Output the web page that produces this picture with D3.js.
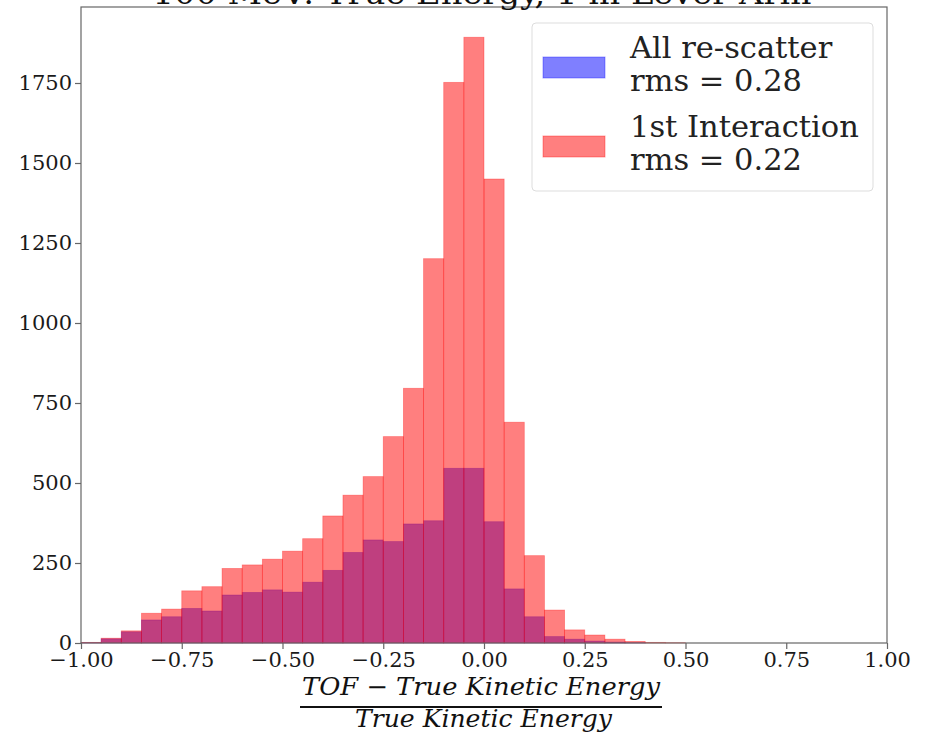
<!DOCTYPE html>
<html>
<head>
<meta charset="utf-8">
<script src="https://cdn.jsdelivr.net/npm/d3@7"></script>
<style>
  body { margin: 0; background: #fff; }
  svg { display: block; }
  text { font-family: "DejaVu Serif", serif; }
</style>
</head>
<body>
<div id="chart"></div>
<script>
// left edge of each histogram bin (width 0.05)
var binStarts = [-1.00, -0.95, -0.90, -0.85, -0.80, -0.75, -0.70, -0.65, -0.60, -0.55,
                 -0.50, -0.45, -0.40, -0.35, -0.30, -0.25, -0.20, -0.15, -0.10, -0.05,
                  0.00,  0.05,  0.10,  0.15,  0.20,  0.25,  0.30,  0.35,  0.40,  0.45];
var binWidth = 0.05;

var allRescatter = [1, 13, 35, 72, 82, 108, 100, 150, 158, 166,
                    159, 190, 227, 283, 322, 317, 372, 382, 546, 546,
                    379, 169, 82, 20, 12, 6, 3, 1, 0, 0];

var firstInteraction = [2, 15, 38, 93, 106, 163, 176, 233, 244, 262,
                        287, 326, 397, 462, 520, 645, 796, 1201, 1752, 1893,
                        1450, 690, 273, 103, 41, 25, 12, 5, 2, 1];

var seriesNames = ["All re-scatter", "1st Interaction"];
var rmsLabels = ["rms = 0.28", "rms = 0.22"];
var seriesColors = ["blue", "red"];

var xTicks = [-1.00, -0.75, -0.50, -0.25, 0.00, 0.25, 0.50, 0.75, 1.00];
var yTicks = [0, 250, 500, 750, 1000, 1250, 1500, 1750];

var chartTitle = "100 MeV: True Energy, 1 m Lever Arm";

var width = 929, height = 736;
// plot area (don't call it "top", that's window.top)
var plotLeft = 81, plotRight = 887, plotTop = 7, plotBottom = 643;

var svg = d3.select("#chart").append("svg")
  .attr("width", width)
  .attr("height", height);

var x = d3.scaleLinear().domain([-1, 1]).range([plotLeft, plotRight]);
var y = d3.scaleLinear().domain([0, 1987.5]).range([plotBottom, plotTop]);

var series = [allRescatter, firstInteraction];

// blue drawn first, red on top (both half transparent)
series.forEach(function(values, i) {
  svg.append("g").selectAll("rect")
    .data(values)
    .enter()
    .append("rect")
    .attr("x", function(d, j) { return x(binStarts[j]); })
    .attr("width", function(d, j) { return x(binStarts[j] + binWidth) - x(binStarts[j]); })
    .attr("y", function(d) { return y(d); })
    .attr("height", function(d) { return y(0) - y(d); })
    .style("fill", seriesColors[i])
    .style("fill-opacity", 0.5)
    .style("stroke", seriesColors[i])
    .style("stroke-opacity", 0.35)
    .style("stroke-width", 0.8);
});

// axes
var xAxis = svg.append("g")
  .attr("transform", "translate(0," + plotBottom + ")")
  .call(d3.axisBottom(x).tickValues(xTicks).tickSize(6).tickPadding(3)
    .tickFormat(function(d) { return d3.format(".2f")(d).replace("-", "\u2212"); }));

var yAxis = svg.append("g")
  .attr("transform", "translate(" + plotLeft + ",0)")
  .call(d3.axisLeft(y).tickValues(yTicks).tickSize(6).tickPadding(3)
    .tickFormat(d3.format("d")));

[xAxis, yAxis].forEach(function(ax) {
  ax.select(".domain").remove();
  ax.selectAll("line").style("stroke", "#666").style("stroke-width", 1.2);
  ax.selectAll("text")
    .style("font-family", "DejaVu Serif, serif")
    .style("font-size", "21px")
    .style("fill", "#1a1a1a");
});

// frame
svg.append("rect")
  .attr("x", plotLeft).attr("y", plotTop)
  .attr("width", plotRight - plotLeft).attr("height", plotBottom - plotTop)
  .style("fill", "none")
  .style("stroke", "#666")
  .style("stroke-width", 1.2);

// title (partly cut off at the top)
svg.append("text")
  .attr("x", 482).attr("y", 4)
  .attr("text-anchor", "middle")
  .attr("textLength", 659)
  .attr("lengthAdjust", "spacingAndGlyphs")
  .style("font-size", "30px")
  .style("fill", "#111")
  .text(chartTitle);

// x label as a fraction
var num = svg.append("text")
  .attr("x", 302).attr("y", 695)
  .attr("textLength", 358)
  .attr("lengthAdjust", "spacingAndGlyphs")
  .style("font-size", "24px")
  .style("fill", "#111");
num.append("tspan").style("font-style", "italic").text("TOF");
num.append("tspan").text(" \u2212 ");
num.append("tspan").style("font-style", "italic").text("True Kinetic Energy");

svg.append("line")
  .attr("x1", 300).attr("x2", 662)
  .attr("y1", 707).attr("y2", 707)
  .style("stroke", "#111")
  .style("stroke-width", 2);

svg.append("text")
  .attr("x", 355).attr("y", 727)
  .attr("textLength", 257)
  .attr("lengthAdjust", "spacingAndGlyphs")
  .style("font-size", "24px")
  .style("font-style", "italic")
  .style("fill", "#111")
  .text("True Kinetic Energy");

// legend
var legend = svg.append("g");
legend.append("rect")
  .attr("x", 532).attr("y", 23)
  .attr("width", 341).attr("height", 168)
  .attr("rx", 4)
  .style("fill", "#fff")
  .style("fill-opacity", 0.8)
  .style("stroke", "#ddd");

var entry = legend.selectAll(".entry")
  .data(seriesNames)
  .enter()
  .append("g")
  .attr("transform", function(d, i) { return "translate(0," + (i * 79) + ")"; });

entry.append("rect")
  .attr("x", 543).attr("y", 57)
  .attr("width", 62).attr("height", 21)
  .style("fill", function(d, i) { return seriesColors[i]; })
  .style("fill-opacity", 0.5)
  .style("stroke", function(d, i) { return seriesColors[i]; })
  .style("stroke-opacity", 0.35);

entry.append("text")
  .attr("x", 630).attr("y", 58)
  .style("font-size", "30.5px")
  .style("fill", "#222")
  .text(function(d) { return d; });

entry.append("text")
  .attr("x", 630).attr("y", 91)
  .style("font-size", "30.5px")
  .style("fill", "#222")
  .text(function(d, i) { return rmsLabels[i]; });
</script>
</body>
</html>
